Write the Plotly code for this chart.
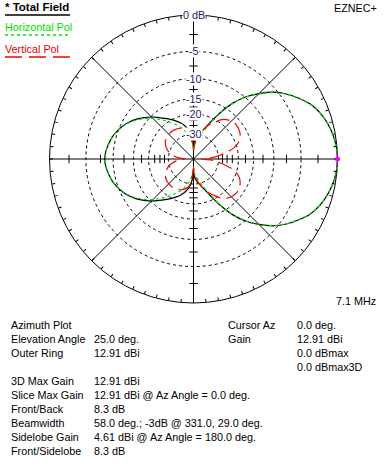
import numpy as np
import plotly.graph_objects as go

W, H = 388, 467

# ---- pattern data (dB relative to outer ring = 12.91 dBi), azimuth 0..180 deg (pattern symmetric) ----
az_total = [0, 5, 10, 15, 20, 25, 30, 35, 40, 45, 50, 55, 60, 65, 70, 75, 80, 85, 88, 90,
            92, 95, 100, 105, 110, 115, 120, 125, 130, 135, 140, 145, 150, 155, 160, 165, 170, 175, 180]
total_db = [0, -0.08, -0.3, -0.65, -1.15, -1.85, -2.9, -4.1, -5.6, -7.6, -9.9, -12.9, -17.0, -21.5, -25.5, -28.5, -31, -34, -38, -44,
            -38, -31, -27, -24.4, -22.6, -21.1, -19.7, -18.3, -16.8, -15.2, -13.8, -12.5, -11.4, -10.5, -9.8, -9.2, -8.8, -8.45, -8.3]

az_hpol = az_total
hpol_db = [0, -0.08, -0.3, -0.66, -1.17, -1.88, -2.95, -4.17, -5.7, -7.7, -10.0, -13.0, -17.4, -22.3, -27.0, -31, -35, -39, -44, -50,
           -44, -37, -32, -28.5, -25.6, -23.5, -21.5, -19.6, -17.7, -15.8, -14.2, -12.8, -11.6, -10.6, -9.85, -9.25, -8.83, -8.47, -8.32]

az_vpol = [0, 3, 8, 15, 20, 25, 30, 38, 45, 53, 60, 65, 70, 75, 80, 85, 90,
           95, 100, 110, 120, 130, 140, 150, 160, 165, 170, 175, 180]
vpol_db = [-50, -37, -29, -21.5, -19, -17.7, -17, -16.6, -17, -18.3, -21, -23, -25.5, -28.5, -32, -37, -48,
           -34, -28, -25.5, -24.5, -24.2, -24.5, -25.5, -28, -30, -33, -38, -48]

ring_db = [0, -5, -10, -15, -20, -30]
ring_labels = ["0 dB", "-5", "-10", "-15", "-20", "-30"]
axis_tick_db = [-2.5, -7.5, -12.5, -17.5, -22.5, -25, -27.5]
outer_tick_deg = list(range(0, 360, 5))

info_left = [("Azimuth Plot", ""), ("Elevation Angle", "25.0 deg."), ("Outer Ring", "12.91 dBi"), ("", ""),
             ("3D Max Gain", "12.91 dBi"), ("Slice Max Gain", "12.91 dBi @ Az Angle = 0.0 deg."),
             ("Front/Back", "8.3 dB"), ("Beamwidth", "58.0 deg.; -3dB @ 331.0, 29.0 deg."),
             ("Sidelobe Gain", "4.61 dBi @ Az Angle = 180.0 deg."), ("Front/Sidelobe", "8.3 dB")]
info_right = [("Cursor Az", "0.0 deg."), ("Gain", "12.91 dBi"), ("", "0.0 dBmax"), ("", "0.0 dBmax3D")]


def arrl(db):
    """ARRL log scale: each 2 dB step multiplies radius by 0.89."""
    return 0.89 ** (-np.asarray(db, dtype=float) / 2.0)


def mirror(az, vals):
    az_full = list(az) + [360 - a for a in reversed(az[:-1])]
    v_full = list(vals) + list(reversed(vals[:-1]))
    return az_full, v_full


FONT = "Liberation Sans, Arial, sans-serif"
FS = 10.8
GREEN = "#00e000"
fig = go.Figure()

# spokes (axes through centre)
for a in [0, 45, 90, 135]:
    fig.add_trace(go.Scatterpolar(r=[1, 0, 1], theta=[a, a, a + 180], mode="lines",
                                  line=dict(color="black", width=1), showlegend=False, hoverinfo="skip"))

# tick marks along horizontal/vertical axes
tr, tt, ta = [], [], []
for a in [0, 90, 180, 270]:
    for d in axis_tick_db:
        tr.append(float(arrl(d)))
        tt.append(a)
        ta.append(90 if a in (0, 180) else 0)
fig.add_trace(go.Scatterpolar(r=tr, theta=tt, mode="markers",
                              marker=dict(symbol="line-ew", size=6, angle=ta, line=dict(color="black", width=1)),
                              showlegend=False, hoverinfo="skip"))

# pattern curves
a, v = mirror(az_total, total_db)
fig.add_trace(go.Scatterpolar(r=arrl(v), theta=a, mode="lines", line=dict(color="black", width=1.2, shape="spline"),
                              showlegend=False))
a, v = mirror(az_hpol, hpol_db)
fig.add_trace(go.Scatterpolar(r=arrl(v), theta=a, mode="lines",
                              line=dict(color=GREEN, width=1.2, dash="3px,3px", shape="spline"), showlegend=False))
a, v = mirror(az_vpol, vpol_db)
fig.add_trace(go.Scatterpolar(r=arrl(v), theta=a, mode="lines",
                              line=dict(color="#ff0000", width=1.2, dash="14px,6px", shape="spline"), showlegend=False))

# cursor marker
fig.add_trace(go.Scatterpolar(r=arrl([total_db[0]]), theta=[az_total[0]], mode="markers",
                              marker=dict(color="#ff00ff", size=5), showlegend=False))

cx, cy, R = 193.5, 159.0, 144.0
fig.update_layout(
    width=W, height=H, autosize=False, margin=dict(l=0, r=0, t=0, b=0),
    paper_bgcolor="white", plot_bgcolor="white", showlegend=False,
    polar=dict(
        domain=dict(x=[(cx - R) / W, (cx + R) / W], y=[1 - (cy + R) / H, 1 - (cy - R) / H]),
        bgcolor="white",
        radialaxis=dict(range=[0, 1], tickvals=list(arrl(ring_db[1:])), showticklabels=False, ticks="",
                        showline=False, showgrid=True, gridcolor="black", gridwidth=1, griddash="3px,3px"),
        angularaxis=dict(rotation=0, direction="counterclockwise", tickvals=outer_tick_deg, ticks="inside",
                         ticklen=3, tickcolor="black", showticklabels=False, showgrid=False,
                         showline=True, linecolor="black", linewidth=1, layer="below traces"),
    ),
)


def txt(x, y, s, color="black", size=FS, anchor="left", bg=None):
    fig.add_annotation(xref="paper", yref="paper", x=x / W, y=1 - y / H, text=s, showarrow=False,
                       xanchor=anchor, yanchor="middle", font=dict(family=FONT, size=size, color=color),
                       borderpad=0, bgcolor=bg)


# ring labels on the vertical axis (positions from the same ARRL scale)
for d, lab in zip(ring_db, ring_labels):
    txt(cx, cy - R * float(arrl(d)), lab, color="#222266", anchor="center", bg="white")

txt(4, 7, "<b>* Total Field</b>", size=11.5)
txt(4, 27, "Horizontal Pol", color=GREEN)
txt(4, 49, "Vertical Pol", color="#ee0000")
txt(378, 8, "EZNEC+", anchor="right")
txt(377, 301, "7.1 MHz", anchor="right")

fig.add_shape(type="line", xref="paper", yref="paper", x0=5 / W, x1=70 / W, y0=1 - 15 / H, y1=1 - 15 / H,
              line=dict(color="black", width=1.5))
fig.add_shape(type="line", xref="paper", yref="paper", x0=5 / W, x1=70 / W, y0=1 - 35 / H, y1=1 - 35 / H,
              line=dict(color=GREEN, width=1.5, dash="3px,3px"))
fig.add_shape(type="line", xref="paper", yref="paper", x0=5 / W, x1=71 / W, y0=1 - 57 / H, y1=1 - 57 / H,
              line=dict(color="#ee0000", width=1.5, dash="17px,7px"))

for i, (lab, val) in enumerate(info_left):
    y = 325 + 14 * i
    if lab:
        txt(10, y, lab)
    if val:
        txt(93, y, val)
for i, (lab, val) in enumerate(info_right):
    y = 325 + 14 * i
    if lab:
        txt(227, y, lab)
    if val:
        txt(296, y, val)

fig.write_html("out.html", config={"displayModeBar": False},
               post_script="document.body.style.margin='0px';")
